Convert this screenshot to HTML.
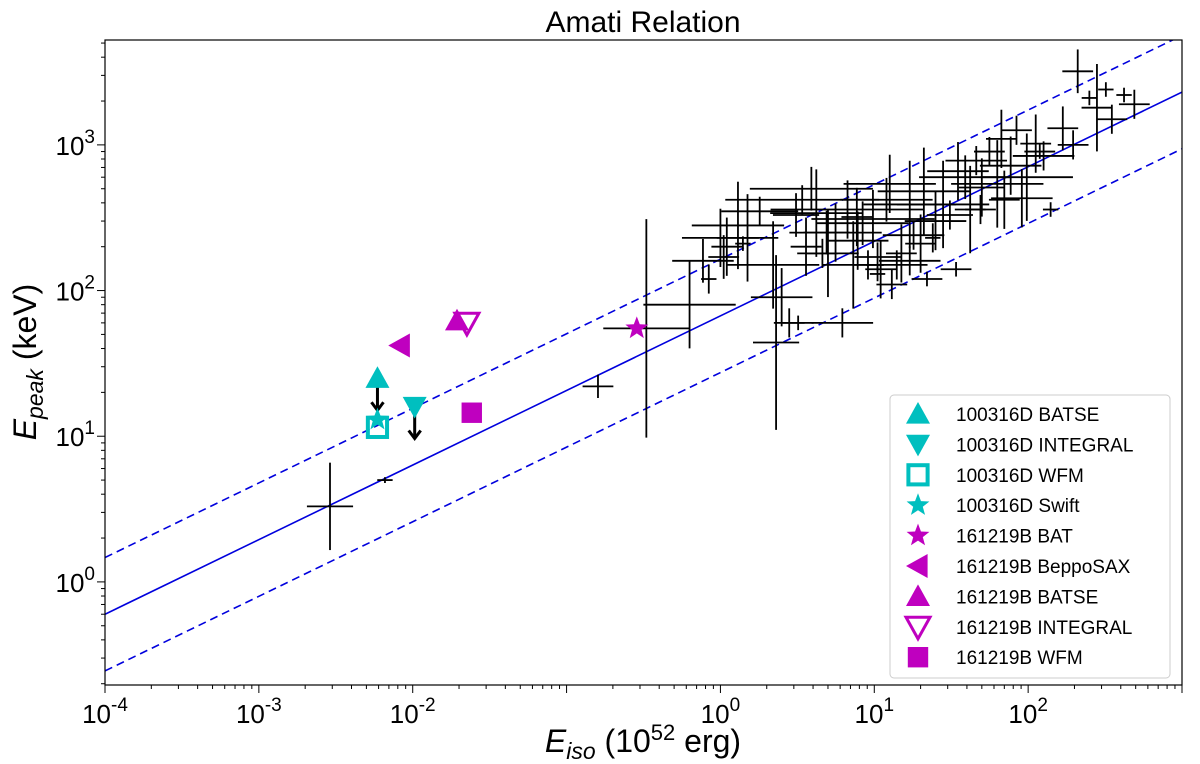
<!DOCTYPE html>
<html><head><meta charset="utf-8"><style>
body{margin:0;background:#fff;}
svg{display:block;font-family:"Liberation Sans",sans-serif;}
</style></head><body>
<svg id="c" width="1200" height="764"></svg>
<script>
// data: [Eiso, Epeak, x-error dex, y-error dex]
const grbE = [0.0029,0.0066,0.16,0.33,0.63,0.77,1.0,1.1,1.3,1.4,1.8,2.3,2.2,2.5,2.8,3.1,3.4,3.6,3.9,4.2,4.6,5.0,5.6,6.2,6.7,7.3,7.8,8.4,9.1,9.8,10.5,11,12,12.6,14,15,17,18,20,21,22,25,28,31,35,39,42,46,50,56,63,70,77,84,98,112,126,140,168,210,250,280,350,420,490,0.84,1.05,1.5,3.2,4.9,7.7,10.5,13,17,24,34,49,67,91,119,196,320];
const grbEp = [3.3,5,22,55,80,160,230,200,280,210,350,44,150,90,60,330,420,200,500,340,180,180,250,60,360,150,220,290,150,310,170,140,420,540,150,180,390,240,210,480,120,300,390,330,660,600,360,780,510,900,540,420,720,1260,600,1020,840,360,1300,3200,2100,1800,1500,2200,1900,120,170,230,60,250,320,130,110,160,230,140,360,1100,430,900,1000,2400];
const grbDx = [0.15,0.05,0.1,0.28,0.3,0.2,0.25,0.1,0.3,0.05,0.25,0.15,0.3,0.2,0.1,0.15,0.5,0.1,0.4,0.3,0.1,0.2,0.3,0.2,0.5,0.2,0.2,0.3,0.1,0.4,0.15,0.1,0.3,0.3,0.2,0.1,0.3,0.2,0.1,0.3,0.1,0.2,0.3,0.15,0.2,0.3,0.1,0.2,0.15,0.1,0.3,0.1,0.2,0.1,0.3,0.1,0.2,0.05,0.1,0.1,0.05,0.1,0.1,0.05,0.1,0.05,0.1,0.2,0.1,0.15,0.1,0.05,0.1,0.2,0.05,0.1,0.1,0.1,0.2,0.1,0.1,0.05];
const grbDy = [0.3,0.02,0.08,0.75,0.3,0.15,0.2,0.2,0.3,0.05,0.1,0.6,0.3,0.2,0.1,0.15,0.1,0.2,0.15,0.3,0.1,0.3,0.2,0.1,0.2,0.3,0.2,0.15,0.1,0.2,0.1,0.2,0.15,0.2,0.1,0.2,0.3,0.1,0.2,0.3,0.05,0.2,0.3,0.1,0.2,0.15,0.3,0.1,0.2,0.1,0.3,0.2,0.2,0.1,0.3,0.2,0.1,0.05,0.15,0.15,0.05,0.3,0.1,0.05,0.1,0.1,0.15,0.3,0.05,0.15,0.2,0.05,0.1,0.1,0.1,0.05,0.1,0.2,0.2,0.05,0.1,0.05];
const xTicks = [-4,-3,-2,0,1,2];
const yTicks = [0,1,2,3];
const fitNorm = 0.6, fitSlope = 0.512, fitScatter = 2.45;
const legendLabels = ["100316D BATSE","100316D INTEGRAL","100316D WFM","100316D Swift","161219B BAT","161219B BeppoSAX","161219B BATSE","161219B INTEGRAL","161219B WFM"];
const markerE = [0.0059,0.0103,0.0059,0.0059,0.286,0.0083,0.0194,0.0225,0.0242];
const markerEp = [25,16,11.5,13,55,42,62,60,14.5];

const NS="http://www.w3.org/2000/svg";
const svg=document.getElementById('c');
const L=105,R=1182,T=40,B=685;
const xmin=-4,xmax=3,ymin=Math.log10(0.196),ymax=3.72;
const X=v=>L+(Math.log10(v)-xmin)/(xmax-xmin)*(R-L);
const Y=v=>B-(Math.log10(v)-ymin)/(ymax-ymin)*(B-T);
function el(t,a,p){const e=document.createElementNS(NS,t);for(const k in a)e.setAttribute(k,a[k]);(p||svg).appendChild(e);return e;}
const clip=el('clipPath',{id:'cp'});el('rect',{x:L,y:T,width:R-L,height:B-T},clip);
const g=el('g',{'clip-path':'url(#cp)'});


[[1,'none','fit-line'],[fitScatter,'8,5','upper-bound'],[1/fitScatter,'8,5','lower-bound']].forEach(([f,d,n])=>{
  const x1=1e-4,x2=1e3;
  const ln=el('line',{x1:X(x1),y1:Y(fitNorm*f),x2:X(x2),y2:Y(fitNorm*f*Math.pow(x2/x1,fitSlope)),stroke:'#0000dd','stroke-width':1.6,'stroke-dasharray':d},g);
  
  
});
for(let i=0;i<grbE.length;i++){
  const e=grbE[i],p=grbEp[i],dx=Math.pow(10,grbDx[i]),dy=Math.pow(10,grbDy[i]);
  const gg=el('g',{stroke:'#000','stroke-width':1.8},g);
  
  
  el('line',{x1:X(e/dx),x2:X(e*dx),y1:Y(p),y2:Y(p)},gg);
  el('line',{x1:X(e),x2:X(e),y1:Y(p/dy),y2:Y(p*dy)},gg);
}
[0,1].forEach(i=>{
  const x=X(markerE[i]),y=Y(markerEp[i]);
  const a=el('g',{},g);
  
  
  el('line',{x1:x,x2:x,y1:y,y2:y+30,stroke:'#000','stroke-width':3},a);
  el('path',{d:`M${x-6},${y+24}L${x},${y+32}L${x+6},${y+24}`,fill:'none',stroke:'#000','stroke-width':3},a);
});
const CY='#00bfbf',MG='#bf00bf';
function star(cx,cy,r){let d='';for(let k=0;k<10;k++){const rr=k%2?r*0.42:r;const a=-Math.PI/2+k*Math.PI/5;d+=(k?'L':'M')+(cx+rr*Math.cos(a))+','+(cy+rr*Math.sin(a));}return d+'Z';}
function marker(i,cx,cy,s,parent){
  const r=s;let e;
  switch(i){
    case 0: e=el('path',{d:`M${cx},${cy-r}L${cx+r},${cy+r*0.8}L${cx-r},${cy+r*0.8}Z`,fill:CY},parent);break;
    case 1: e=el('path',{d:`M${cx},${cy+r}L${cx+r},${cy-r*0.8}L${cx-r},${cy-r*0.8}Z`,fill:CY},parent);break;
    case 2: e=el('rect',{x:cx-r*0.8,y:cy-r*0.8,width:r*1.6,height:r*1.6,fill:'none',stroke:CY,'stroke-width':4},parent);break;
    case 3: e=el('path',{d:star(cx,cy,r),fill:CY},parent);break;
    case 4: e=el('path',{d:star(cx,cy,r),fill:MG},parent);break;
    case 5: e=el('path',{d:`M${cx-r},${cy}L${cx+r*0.8},${cy-r}L${cx+r*0.8},${cy+r}Z`,fill:MG},parent);break;
    case 6: e=el('path',{d:`M${cx},${cy-r}L${cx+r},${cy+r*0.8}L${cx-r},${cy+r*0.8}Z`,fill:MG},parent);break;
    case 7: e=el('path',{d:`M${cx},${cy+r}L${cx+r},${cy-r*0.8}L${cx-r},${cy-r*0.8}Z`,fill:'none',stroke:MG,'stroke-width':3},parent);break;
    case 8: e=el('rect',{x:cx-r*0.85,y:cy-r*0.85,width:r*1.7,height:r*1.7,fill:MG},parent);break;
  }
  return e;
}
for(let i=0;i<markerE.length;i++){
  const m=marker(i,X(markerE[i]),Y(markerEp[i]),12,g);
  
  
}
const fr=el('rect',{x:L,y:T,width:R-L,height:B-T,fill:'none',stroke:'#000','stroke-width':1.2});


for(let d=xmin;d<=xmax;d++){for(let m=1;m<10;m++){const v=m*Math.pow(10,d);const x=X(v);if(x<L-0.5||x>R+0.5)continue;
  el('line',{x1:x,x2:x,y1:B,y2:B+(m==1?8:4),stroke:'#000','stroke-width':1});}}
for(let d=-1;d<=3;d++){for(let m=1;m<10;m++){const v=m*Math.pow(10,d);const y=Y(v);if(y<T-0.5||y>B+0.5)continue;
  el('line',{x1:L,x2:L-(m==1?8:4),y1:y,y2:y,stroke:'#000','stroke-width':1});}}
xTicks.forEach(d=>{
  const t=el('text',{x:X(Math.pow(10,d)),y:B+38,'font-size':26,'text-anchor':'middle'});
  
  
  t.innerHTML='10<tspan dy="-12" font-size="19">'+d+'</tspan>';
});
yTicks.forEach(d=>{
  const t=el('text',{x:L-10,y:Y(Math.pow(10,d))+10,'font-size':26,'text-anchor':'end'});
  
  
  t.innerHTML='10<tspan dy="-12" font-size="19">'+d+'</tspan>';
});
const ti=el('text',{x:643,y:32,'font-size':30,'text-anchor':'middle'});ti.textContent='Amati Relation';


const xl=el('text',{x:643,y:752,'font-size':32,'text-anchor':'middle'});
xl.innerHTML='<tspan font-style="italic">E</tspan><tspan font-style="italic" font-size="23" dy="7">iso</tspan><tspan dy="-7"> (10</tspan><tspan font-size="22" dy="-12">52</tspan><tspan dy="12"> erg)</tspan>';


const yl=el('text',{x:0,y:0,'font-size':32,'text-anchor':'middle',transform:'translate(36,362) rotate(-90)'});
yl.innerHTML='<tspan font-style="italic">E</tspan><tspan font-style="italic" font-size="23" dy="7">peak</tspan><tspan dy="-7"> (keV)</tspan>';


const lg=el('g',{});


el('rect',{x:890,y:395,width:280,height:283,rx:4,fill:'#fff','fill-opacity':0.85,stroke:'#ccc'},lg);
legendLabels.forEach((lab,i)=>{
  const y=414+i*30.4;
  const ge=el('g',{},lg);
  
  
  marker(i,918,y,12,ge);
  const t=el('text',{x:956,y:y+7,'font-size':19},ge);t.textContent=lab;
});
</script>
</body></html>
